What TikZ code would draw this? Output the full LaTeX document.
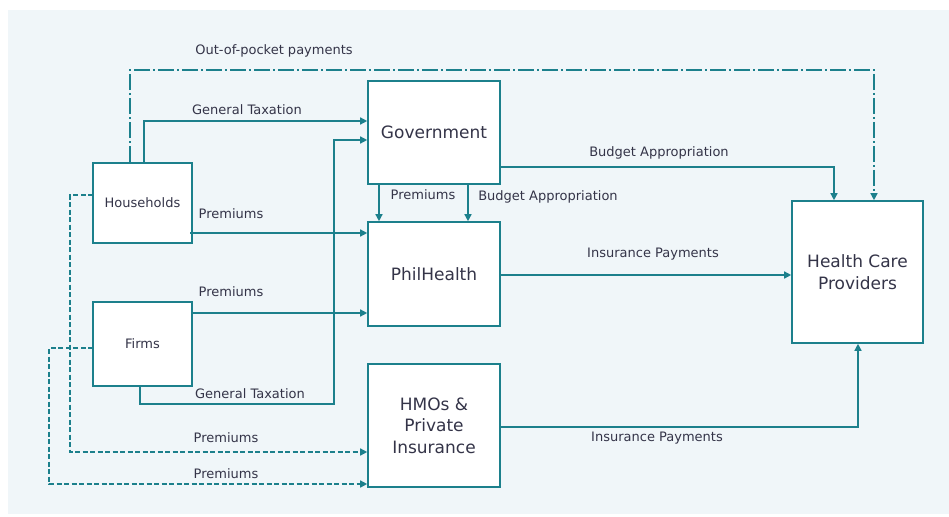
\documentclass[tikz,border=0pt]{standalone}
\usepackage{fontspec}
\setmainfont{DejaVu Sans}
\usetikzlibrary{arrows.meta}
\definecolor{teal}{RGB}{28,128,140}
\definecolor{panel}{RGB}{240,246,249}
\definecolor{ink}{RGB}{52,52,72}
\begin{document}
\begin{tikzpicture}[x=1pt,y=-1pt,
  box/.style={draw=teal,line width=1.6pt,fill=white,text=ink,align=center,inner sep=0pt},
  smallbox/.style={box,font=\fontsize{13}{15}\selectfont},
  bigbox/.style={box,font=\fontsize{17}{21.5}\selectfont},
  flow/.style={draw=teal,line width=1.4pt,-{Triangle[length=7pt,width=7pt]}},
  private/.style={flow,dash pattern=on 5pt off 2.5pt},
  oop/.style={flow,dash pattern=on 16pt off 3pt on 2pt off 3pt},
  lbl/.style={text=ink,font=\fontsize{13}{15}\selectfont,inner sep=0pt}]
\useasboundingbox (0,0) rectangle (949,516);
\fill[white] (0,0) rectangle (949,516);
\fill[panel] (8,10) rectangle (949,514);

% actors
\node[smallbox,minimum width=99pt,minimum height=80pt] (hh) at (142.5,203) {Households};
\node[smallbox,minimum width=99pt,minimum height=84pt] (fi) at (142.5,344) {Firms};
\node[bigbox,minimum width=132pt,minimum height=103pt] (gov) at (434,132.5) {Government};
\node[bigbox,minimum width=132pt,minimum height=104pt] (ph) at (434,274) {PhilHealth};
\node[bigbox,minimum width=132pt,minimum height=123pt] (hmo) at (434,425.5) {HMOs \&\\Private\\Insurance};
\node[bigbox,minimum width=131pt,minimum height=142pt] (hcp) at (857.5,272) {Health Care\\Providers};

% routing points
\coordinate (oopA) at (130,70);
\coordinate (oopB) at (874,70);
\coordinate (hhTax) at (144,121);
\coordinate (hhPrem) at (190,233);
\coordinate (fiPrem) at (192,313);
\coordinate (fiTaxA) at (140,404);
\coordinate (fiTaxB) at (334,404);
\coordinate (fiTaxC) at (334,140);
\coordinate (govPrem) at (379,0);
\coordinate (govBud) at (468,0);
\coordinate (budA) at (500,167);
\coordinate (budB) at (834,167);
\coordinate (insA) at (500,275);
\coordinate (hmoPay) at (500,427);
\coordinate (hmoPayB) at (858,427);
\coordinate (hhPriv) at (93,195);
\coordinate (hhPrivA) at (70,195);
\coordinate (hhPrivB) at (70,452);
\coordinate (fiPriv) at (93,348);
\coordinate (fiPrivA) at (49,348);
\coordinate (fiPrivB) at (49,484);

% flows
\draw[oop] (hh.north -| oopA) -- (oopA) -- (oopB) -- (hcp.north -| oopB);
\draw[flow] (hh.north -| hhTax) -- (hhTax) -- (gov.west |- hhTax);
\draw[flow] (hhPrem) -- (ph.west |- hhPrem);
\draw[flow] (fiPrem) -- (ph.west |- fiPrem);
\draw[flow] (fi.south -| fiTaxA) -- (fiTaxA) -- (fiTaxB) -- (fiTaxC) -- (gov.west |- fiTaxC);
\draw[flow] (gov.south -| govPrem) -- (ph.north -| govPrem);
\draw[flow] (gov.south -| govBud) -- (ph.north -| govBud);
\draw[flow] (budA) -- (budB) -- (hcp.north -| budB);
\draw[flow] (insA) -- (hcp.west |- insA);
\draw[flow] (hmoPay) -- (hmoPayB) -- (hcp.south -| hmoPayB);
\draw[private] (hhPriv) -- (hhPrivA) -- (hhPrivB) -- (hmo.west |- hhPrivB);
\draw[private] (fiPriv) -- (fiPrivA) -- (fiPrivB) -- (hmo.west |- fiPrivB);

% flow labels
\node[lbl] (lOop) at (274,51) {Out-of-pocket payments};
\node[lbl] (lHhTax) at (247,110) {General Taxation};
\node[lbl] (lHhPrem) at (231,214) {Premiums};
\node[lbl] (lFiPrem) at (231,292) {Premiums};
\node[lbl] (lFiTax) at (250,394) {General Taxation};
\node[lbl] (lGovPrem) at (423,195) {Premiums};
\node[lbl] (lGovBud) at (548,197) {Budget Appropriation};
\node[lbl] (lBud) at (659,153) {Budget Appropriation};
\node[lbl] (lIns) at (653,254) {Insurance Payments};
\node[lbl] (lHmoIns) at (657,438) {Insurance Payments};
\node[lbl] (lHhPriv) at (226,438) {Premiums};
\node[lbl] (lFiPriv) at (226,474) {Premiums};
\end{tikzpicture}
\end{document}
